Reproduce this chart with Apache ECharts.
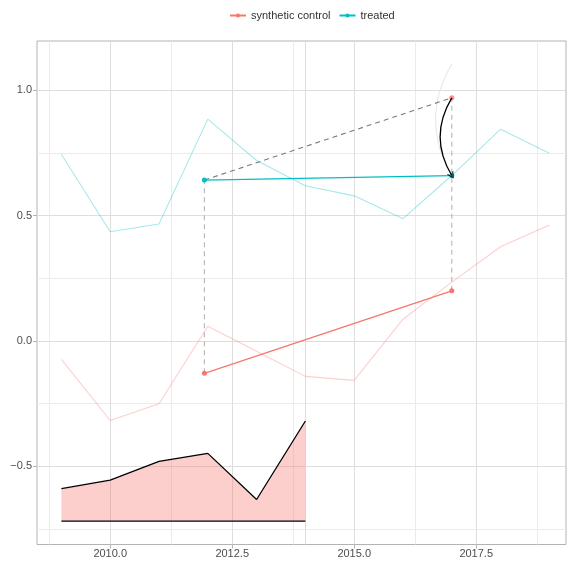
<!DOCTYPE html>
<html>
<head>
<meta charset="utf-8">
<script src="https://cdn.jsdelivr.net/npm/echarts@6/dist/echarts.min.js"></script>
<style>
  html, body { margin: 0; padding: 0; background: #ffffff; }
  #chart { width: 572px; height: 562px; }
</style>
</head>
<body>
<div id="chart"></div>
<script>
// Yearly outcome paths
const years = [2009, 2010, 2011, 2012, 2013, 2014, 2015, 2016, 2017, 2018, 2019];
const treated = [0.745, 0.436, 0.467, 0.885, 0.720, 0.619, 0.579, 0.488, 0.660, 0.845, 0.749];
const synthetic = [-0.073, -0.317, -0.250, 0.059, -0.041, -0.141, -0.157, 0.087, 0.235, 0.376, 0.463];

// Gap panel drawn along the bottom
const gapYears = [2009, 2010, 2011, 2012, 2013, 2014];
const gap = [-0.589, -0.555, -0.480, -0.448, -0.632, -0.319];
const gapBase = -0.718;

// Comparison window and its end points
const windowX = [2011.93, 2017];
const treatedWindow = [0.642, 0.660];
const syntheticWindow = [-0.129, 0.200];
const counterfactualEnd = 0.970;
const ghostStart = 1.105;
const cutYear = 2014;

// Axis breaks
const xMajor = [2010, 2012.5, 2015, 2017.5];
const xMinor = [2008.75, 2011.25, 2013.75, 2016.25, 2018.75];
const yMajor = [-0.5, 0, 0.5, 1.0];
const yMinor = [-0.75, -0.25, 0.25, 0.75];

const RED = '#F8766D';
const TEAL = '#00BFC4';
const FONT = '"Liberation Sans", Arial, Helvetica, sans-serif';
const openArrow = 'path://M0,10 L5,0 L10,10 L8.8,10.6 L5,2.6 L1.2,10.6 Z';

const pairs = (xs, ys) => xs.map((x, i) => [x, ys[i]]);
const minus = s => s.replace('-', '\u2212');

const MINOR = { color: '#ebebeb', width: 1, type: 'solid' };
const MAJOR = { color: '#dedede', width: 1, type: 'solid' };
const gridLines = [
  ...xMinor.map(v => ({ xAxis: v, lineStyle: MINOR })),
  ...yMinor.map(v => ({ yAxis: v, lineStyle: MINOR })),
  ...xMajor.map(v => ({ xAxis: v, lineStyle: MAJOR })),
  ...yMajor.map(v => ({ yAxis: v, lineStyle: MAJOR })),
  { xAxis: cutYear, lineStyle: MAJOR }
];

const chart = echarts.init(document.getElementById('chart'), null, { renderer: 'canvas' });

chart.setOption({
  animation: false,
  backgroundColor: '#ffffff',
  textStyle: { fontFamily: FONT },
  legend: {
    top: 5,
    left: 224,
    itemWidth: 16,
    itemHeight: 5,
    itemGap: 8,
    textStyle: { fontFamily: FONT, fontSize: 11, color: '#333333' },
    data: ['synthetic control', 'treated']
  },
  grid: {
    left: 37, right: 6, top: 41, bottom: 17.5,
    show: true, borderColor: '#b3b3b3', borderWidth: 1,
    outerBoundsMode: 'none'
  },
  xAxis: {
    type: 'value',
    min: 2008.5, max: 2019.34,
    axisLine: { show: false, onZero: false },
    axisTick: { show: true, customValues: xMajor, length: 4, lineStyle: { color: '#b3b3b3' } },
    axisLabel: { customValues: xMajor, formatter: v => v.toFixed(1), color: '#4d4d4d', fontSize: 11, margin: 4, fontFamily: FONT },
    splitLine: { show: false }
  },
  yAxis: {
    type: 'value',
    min: -0.8115, max: 1.1965,
    axisLine: { show: false, onZero: false },
    axisTick: { show: true, customValues: yMajor, length: 4, lineStyle: { color: '#b3b3b3' } },
    axisLabel: { customValues: yMajor, formatter: v => minus(v.toFixed(1)), color: '#4d4d4d', fontSize: 11, margin: 5, fontFamily: FONT },
    splitLine: { show: false }
  },
  series: [
    {
      // panel grid, kept underneath every mark
      type: 'line', data: [], silent: true, z: 0, zlevel: 0,
      markLine: { silent: true, z: 0, symbol: 'none', label: { show: false }, animation: false, data: gridLines }
    },
    {
      name: 'treated path', type: 'line', data: pairs(years, treated), showSymbol: false, z: 2,
      lineStyle: { color: 'rgba(0,191,196,0.35)', width: 1.1 }
    },
    {
      name: 'synthetic path', type: 'line', data: pairs(years, synthetic), showSymbol: false, z: 2,
      lineStyle: { color: 'rgba(248,118,109,0.35)', width: 1.1 }
    },
    {
      name: 'gap', type: 'line', data: pairs(gapYears, gap), showSymbol: false, z: 3,
      lineStyle: { color: '#000000', width: 1.3 },
      areaStyle: { color: 'rgba(248,118,109,0.35)', origin: gapBase, opacity: 1 }
    },
    {
      name: 'gap base', type: 'line', data: pairs([gapYears[0], gapYears[gapYears.length - 1]], [gapBase, gapBase]),
      showSymbol: false, z: 3, lineStyle: { color: '#000000', width: 1.3 }
    },
    {
      name: 'projection', type: 'line', data: [[windowX[0], treatedWindow[0]], [windowX[1], counterfactualEnd]],
      showSymbol: false, z: 4, lineStyle: { color: '#7a7a7a', width: 1.1, type: [5, 4] }
    },
    {
      name: 'start drop', type: 'line', data: [[windowX[0], syntheticWindow[0]], [windowX[0], treatedWindow[0]]],
      showSymbol: false, z: 4, lineStyle: { color: '#b5b5b5', width: 1.1, type: [5, 4] }
    },
    {
      name: 'end drop', type: 'line', data: [[windowX[1], syntheticWindow[1]], [windowX[1], counterfactualEnd]],
      showSymbol: false, z: 4, lineStyle: { color: '#b5b5b5', width: 1.1, type: [5, 4] }
    },
    {
      name: 'synthetic control', type: 'line', data: pairs(windowX, syntheticWindow), z: 5,
      symbol: 'circle', symbolSize: 5, showSymbol: true,
      lineStyle: { color: RED, width: 1.3 }, itemStyle: { color: RED }
    },
    {
      name: 'treated', type: 'line', data: pairs(windowX, treatedWindow), z: 5,
      symbol: 'circle', symbolSize: 5, showSymbol: true,
      lineStyle: { color: TEAL, width: 1.3 }, itemStyle: { color: TEAL }
    },
    {
      name: 'counterfactual', type: 'scatter', data: [[windowX[1], counterfactualEnd]], z: 5,
      symbolSize: 5, itemStyle: { color: RED }
    },
    {
      name: 'ghost arrow', type: 'lines', coordinateSystem: 'cartesian2d', z: 4,
      data: [{ coords: [[windowX[1], ghostStart], [windowX[1], treatedWindow[1]]] }],
      symbol: ['none', 'none'],
      lineStyle: { color: '#e8e8e8', width: 1.1, curveness: -0.29, opacity: 1 }
    },
    {
      name: 'effect arrow', type: 'lines', coordinateSystem: 'cartesian2d', z: 6,
      data: [{ coords: [[windowX[1], counterfactualEnd], [windowX[1], treatedWindow[1]]] }],
      symbol: ['none', openArrow], symbolSize: [8, 7],
      lineStyle: { color: '#000000', width: 1.3, curveness: -0.3, opacity: 1 },
      itemStyle: { color: '#000000' }
    }
  ]
});
</script>
</body>
</html>
